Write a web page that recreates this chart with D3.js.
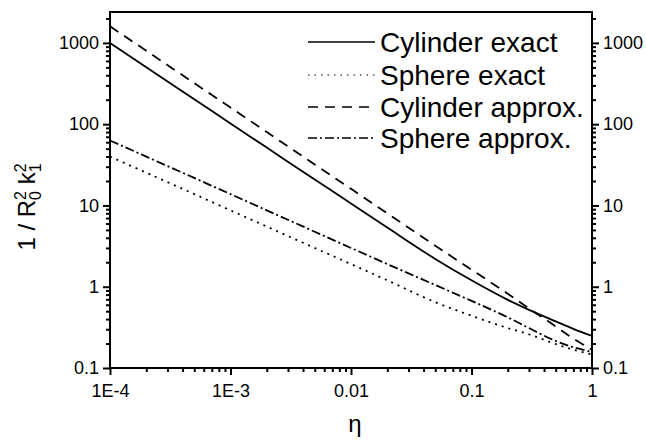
<!DOCTYPE html>
<html>
<head>
<meta charset="utf-8">
<script src="https://cdn.jsdelivr.net/npm/d3@7"></script>
<style>
  body { margin: 0; background: #fff; }
  text { font-family: "Liberation Sans", Arial, sans-serif; fill: #000; }
</style>
</head>
<body>
<svg id="chart" width="646" height="440"></svg>
<script>
// Dimensionless eigenvalue term 1/(R0^2 k1^2) against eta, log-log
const eta            = [1e-4, 2e-4, 5e-4, 1e-3, 2e-3, 5e-3, 0.01, 0.02, 0.05, 0.1, 0.2, 0.3, 0.5, 0.7, 1];
const cylinderExact  = [1000, 503, 203, 102, 51.5, 20.8, 10.6, 5.35, 2.2, 1.2, 0.69, 0.52, 0.375, 0.303, 0.248];
const sphereExact    = [40, 25.3, 13.8, 8.7, 5.5, 3.0, 1.9, 1.2, 0.645, 0.44, 0.31, 0.26, 0.197, 0.168, 0.147];
const cylinderApprox = [1600, 800, 320, 160, 80, 32, 16, 8, 3.2, 1.62, 0.82, 0.54, 0.325, 0.23, 0.168];
const sphereApprox   = [63, 39.9, 21.8, 13.8, 8.7, 4.75, 3.0, 1.9, 1.05, 0.67, 0.42, 0.31, 0.215, 0.18, 0.158];

const seriesNames = ["Cylinder exact", "Sphere exact", "Cylinder approx.", "Sphere approx."];
const xTickValues = [1e-4, 1e-3, 1e-2, 1e-1, 1];
const xTickLabels = ["1E-4", "1E-3", "0.01", "0.1", "1"];
const yTickValues = [0.1, 1, 10, 100, 1000];
const yTickLabels = ["0.1", "1", "10", "100", "1000"];

const svg = d3.select("#chart");
const plotLeft = 110, plotRight = 592, plotTop = 12, plotBottom = 368;

const x = d3.scaleLog().domain([1e-4, 1]).range([plotLeft, plotRight]);
const y = d3.scaleLog().domain([0.1, 2400]).range([plotBottom, plotTop]);

// minor ticks: 2..9 within each decade
function minorTicks(domain) {
  const out = [];
  const lo = Math.floor(Math.log10(domain[0])), hi = Math.ceil(Math.log10(domain[1]));
  for (let e = lo; e < hi; e++) {
    for (let m = 2; m <= 9; m++) {
      const v = m * Math.pow(10, e);
      if (v > domain[0] && v < domain[1]) out.push(v);
    }
  }
  return out;
}

const fmt = (vals, labels) => d => labels[vals.findIndex(v => Math.abs(v - d) / d < 1e-6)];

function styleAxis(g) {
  g.select(".domain").remove();
  g.selectAll(".tick line").attr("stroke", "#000").attr("stroke-width", 2);
  g.selectAll(".tick text").style("font-size", "18px").style("font-family", "'Liberation Sans', Arial, sans-serif");
}

// bottom axis
svg.append("g").attr("transform", `translate(0,${plotBottom})`)
  .call(d3.axisBottom(x).tickValues(minorTicks(x.domain())).tickSize(4).tickFormat(""))
  .call(styleAxis);
svg.append("g").attr("transform", `translate(0,${plotBottom})`)
  .call(d3.axisBottom(x).tickValues(xTickValues).tickSize(7).tickPadding(9).tickFormat(fmt(xTickValues, xTickLabels)))
  .call(styleAxis);

// left and right axes
[[d3.axisLeft, plotLeft], [d3.axisRight, plotRight]].forEach(([axisFn, pos]) => {
  svg.append("g").attr("transform", `translate(${pos},0)`)
    .call(axisFn(y).tickValues(minorTicks(y.domain())).tickSize(4).tickFormat(""))
    .call(styleAxis);
  svg.append("g").attr("transform", `translate(${pos},0)`)
    .call(axisFn(y).tickValues(yTickValues).tickSize(7).tickPadding(4).tickFormat(fmt(yTickValues, yTickLabels)))
    .call(styleAxis);
});

// frame
svg.append("rect")
  .attr("x", plotLeft).attr("y", plotTop)
  .attr("width", plotRight - plotLeft).attr("height", plotBottom - plotTop)
  .attr("fill", "none").attr("stroke", "#000").attr("stroke-width", 2);

// curves
const dashes = ["none", "2,5", "10,7", "9,3,2,3"];
const seriesValues = [cylinderExact, sphereExact, cylinderApprox, sphereApprox];

const line = d3.line()
  .x(d => x(d[0]))
  .y(d => y(d[1]))
  .curve(d3.curveMonotoneX);

const plot = svg.append("g");
seriesValues.forEach((vals, i) => {
  plot.append("path")
    .datum(eta.map((e, j) => [e, vals[j]]))
    .attr("fill", "none")
    .attr("stroke", "#000")
    .attr("stroke-width", 1.8)
    .attr("stroke-dasharray", dashes[i])
    .attr("d", line);
});

// legend
const legend = svg.append("g");
const rowY = [42, 75, 107, 138];
seriesNames.forEach((name, i) => {
  legend.append("line")
    .attr("x1", 308).attr("x2", 375)
    .attr("y1", rowY[i]).attr("y2", rowY[i])
    .attr("stroke", "#000").attr("stroke-width", i === 1 ? 1.2 : 1.5)
    .attr("stroke-dasharray", i === 1 ? "1.5,5" : dashes[i]);
  legend.append("text")
    .attr("x", 380).attr("y", rowY[i] + 10)
    .style("font-size", "28px")
    .text(name);
});

// axis titles
svg.append("text")
  .attr("x", 355).attr("y", 432)
  .attr("text-anchor", "middle")
  .style("font-size", "24px")
  .text("η");

const yTitle = svg.append("text")
  .attr("transform", "translate(35,207) rotate(-90)")
  .attr("text-anchor", "middle")
  .style("font-size", "24px");
yTitle.append("tspan").text("1 / R");
yTitle.append("tspan").attr("dy", 6).style("font-size", "16px").text("0");
yTitle.append("tspan").attr("dx", -8.9).attr("dy", -15).style("font-size", "16px").text("2");
yTitle.append("tspan").attr("dy", 9).text(" k");
yTitle.append("tspan").attr("dy", 6).style("font-size", "16px").text("1");
yTitle.append("tspan").attr("dx", -8.9).attr("dy", -15).style("font-size", "16px").text("2");
</script>
</body>
</html>
